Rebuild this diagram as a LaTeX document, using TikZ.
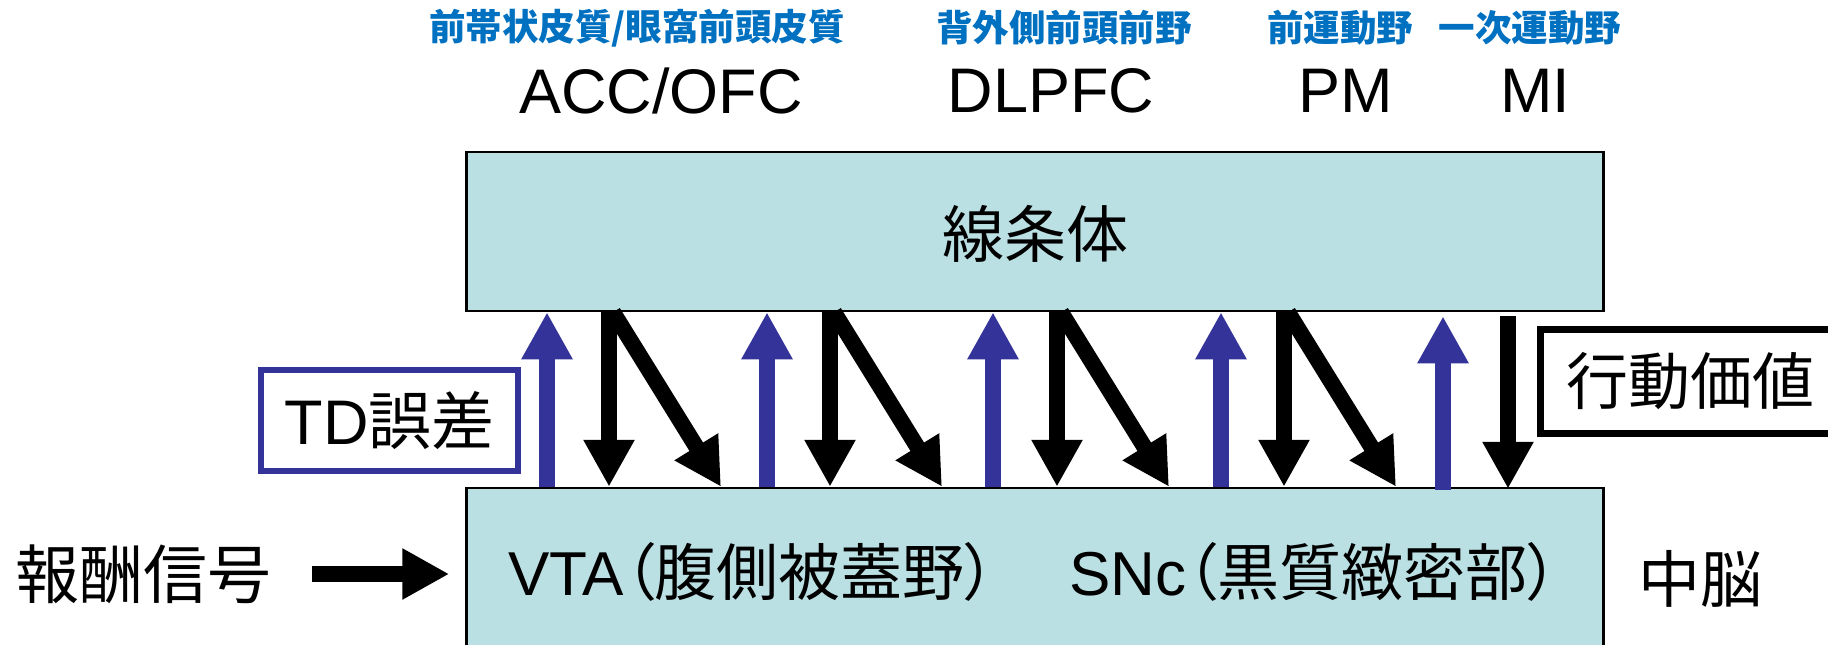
\documentclass[tikz,border=0pt]{standalone}
\usepackage{fontspec}
\setmainfont{Liberation Sans}
\newfontfamily\jp[RawFeature=+palt]{Noto Sans CJK JP}
\usetikzlibrary{arrows.meta,calc}
\definecolor{boxfill}{RGB}{187,224,227}
\definecolor{tdblue}{RGB}{51,51,153}
\definecolor{lblblue}{RGB}{0,112,192}
\tikzset{
  region/.style={draw=black, line width=2.5pt, fill=boxfill, inner sep=0pt},
  toplbl/.style={inner sep=0pt, text=lblblue, font=\jp\bfseries\fontsize{36.5}{36.5}\selectfont},
  abbr/.style={inner sep=0pt, font=\fontsize{63}{63}\selectfont},
  bigtxt/.style={inner sep=0pt, font=\fontsize{62}{62}\selectfont},
  blockarr/.style={line width=16pt, line cap=butt, -{Triangle[width=48pt,length=47pt]}},
  uparr/.style={blockarr, draw=tdblue},
  downarr/.style={blockarr, draw=black},
}
\begin{document}
\begin{tikzpicture}[x=1pt,y=-1pt]
\useasboundingbox (0,0) rectangle (1828,645);
\clip (0,0) rectangle (1828,645);
% boxes
\node[region, minimum width=1137pt, minimum height=159pt] (str) at (1035,231.5) {};
\node[bigtxt] (strlbl) at (1035,234) {\jp 線条体};
\node[region, minimum width=1137pt, minimum height=220pt] (mid) at (1035,598) {};
\node[bigtxt] (vta) at (752,572) {VTA{\jp （腹側被蓋野）}};
\node[bigtxt] (snc) at (1314,572) {SNc{\jp （黒質緻密部）}};
\node[bigtxt] (mb) at (1700,579) {\jp 中脳};
% top labels
\node[toplbl] (l1) at (637,28) {前帯状皮質/眼窩前頭皮質};
\node[toplbl] (l2) at (1064,28) {背外側前頭前野};
\node[toplbl] (l3) at (1340,28) {前運動野};
\node[toplbl] (l4) at (1530,28) {一次運動野};
\node[abbr] (a1) at (661,91) {ACC/OFC};
\node[abbr] (a2) at (1051,91) {DLPFC};
\node[abbr] (a3) at (1346,91) {PM};
\node[abbr] (a4) at (1535,91) {MI};
% side boxes
\node[draw=tdblue, line width=6.5pt, minimum width=257pt, minimum height=101pt, inner sep=0pt,
      font=\fontsize{63}{63}\selectfont] (td) at (389.5,420.5) {TD{\jp 誤差}};
\node[draw=black, line width=7pt, minimum width=300pt, minimum height=104pt, inner sep=0pt,
      font=\jp\fontsize{62}{62}\selectfont] (av) at (1690.5,381.5) {行動価値};
\node[inner sep=0pt, font=\jp\fontsize{64}{64}\selectfont] (rw) at (144,574) {報酬信号};
% reward arrow
\draw[downarr, shorten <=40pt, shorten >=16pt] (rw.east) -- (rw.east -| mid.west);
% up (TD) arrows
\foreach \ux in {547,767,993,1221}
  \draw[uparr] (\ux,0 |- mid.north) -- (\ux,0 |- str.south);
\draw[uparr] ($(1443,0 |- mid.north)+(0,3)$) -- ($(1443,0 |- str.south)+(0,4)$);
% down and diagonal arrows
\foreach \dx in {609,830,1057,1284} {
  \draw[downarr] (\dx,0 |- str.south) -- (\dx,0 |- mid.north);
  \draw[downarr] ($(\dx,0 |- str.south)+(4,0)$) -- ($(\dx,0 |- mid.north)+(112,0)$);
}
\draw[downarr] ($(1508,0 |- str.south)+(0,4)$) -- ($(1508,0 |- mid.north)+(0,2)$);
\end{tikzpicture}
\end{document}
